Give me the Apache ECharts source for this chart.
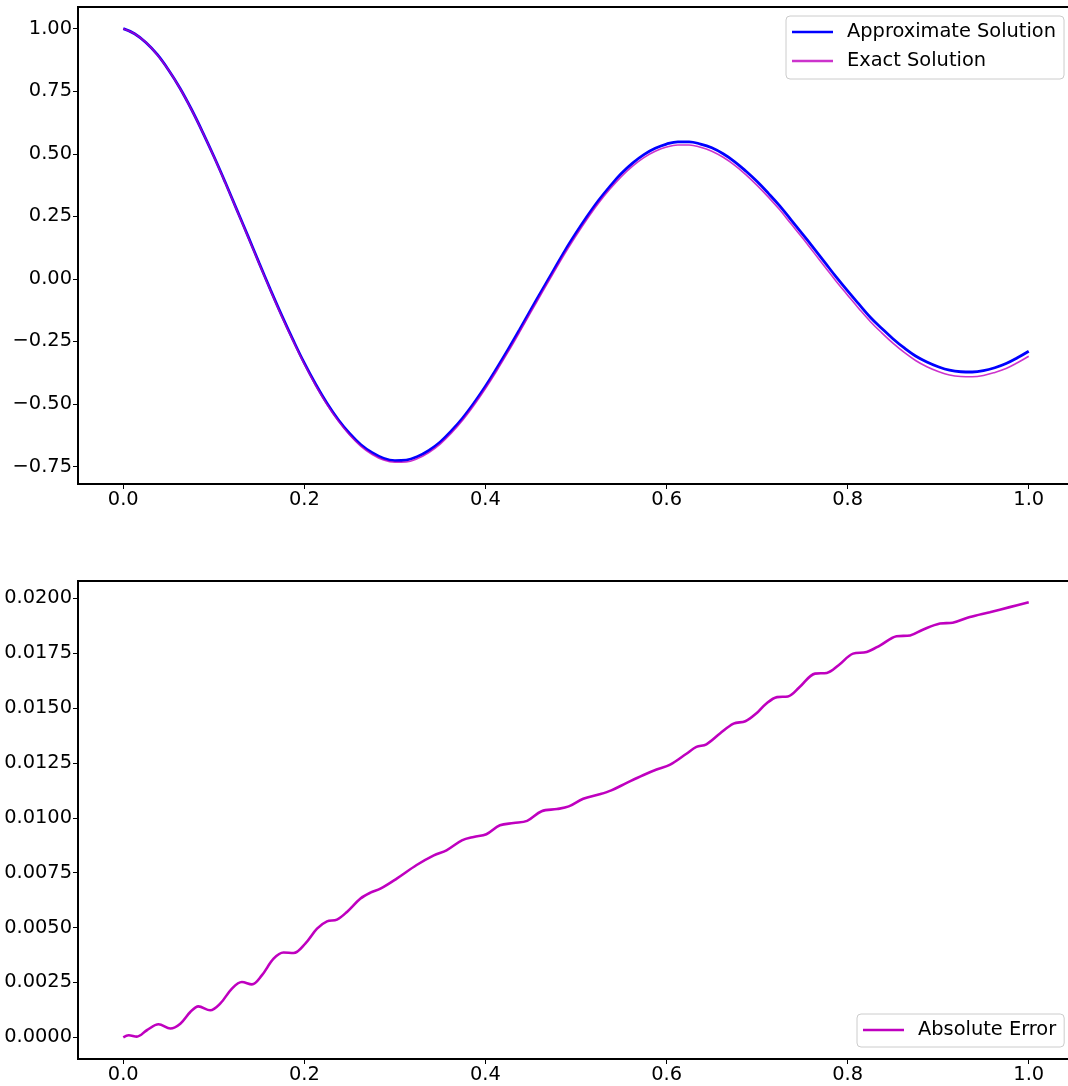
<!DOCTYPE html>
<html><head><meta charset="utf-8">
<script src="https://cdn.jsdelivr.net/npm/echarts@6/dist/echarts.min.js"></script>
<style>html,body{margin:0;padding:0;background:#fff}#c{width:1068px;height:1086px}</style>
</head><body><div id="c"></div>
<script>
// ---- data ----
const solX = [0,0.0125,0.025,0.0375,0.05,0.0625,0.075,0.0875,0.1,0.1125,0.125,0.1375,0.15,0.1625,0.175,0.1875,0.2,0.2125,0.225,0.2375,0.25,0.2625,0.275,0.2875,0.3,0.3125,0.325,0.3375,0.35,0.3625,0.375,0.3875,0.4,0.4125,0.425,0.4375,0.45,0.4625,0.475,0.4875,0.5,0.5125,0.525,0.5375,0.55,0.5625,0.575,0.5875,0.6,0.6125,0.625,0.6375,0.65,0.6625,0.675,0.6875,0.7,0.7125,0.725,0.7375,0.75,0.7625,0.775,0.7875,0.8,0.8125,0.825,0.8375,0.85,0.8625,0.875,0.8875,0.9,0.9125,0.925,0.9375,0.95,0.9625,0.975,0.9875,1.0];
const approxY = [1.000,0.980,0.945,0.897,0.835,0.763,0.680,0.588,0.490,0.387,0.280,0.173,0.064,-0.043,-0.146,-0.244,-0.337,-0.421,-0.497,-0.563,-0.618,-0.663,-0.695,-0.717,-0.726,-0.724,-0.710,-0.686,-0.652,-0.607,-0.555,-0.495,-0.429,-0.357,-0.282,-0.204,-0.124,-0.045,0.033,0.111,0.183,0.251,0.314,0.370,0.421,0.463,0.497,0.522,0.539,0.548,0.548,0.539,0.524,0.500,0.469,0.431,0.389,0.342,0.292,0.236,0.180,0.123,0.065,0.007,-0.048,-0.101,-0.153,-0.197,-0.239,-0.276,-0.308,-0.332,-0.351,-0.365,-0.371,-0.372,-0.367,-0.355,-0.338,-0.315,-0.289];
const exactY = [1.000,0.980,0.945,0.896,0.835,0.762,0.679,0.587,0.489,0.385,0.278,0.170,0.061,-0.046,-0.150,-0.248,-0.341,-0.426,-0.502,-0.568,-0.624,-0.669,-0.702,-0.724,-0.733,-0.732,-0.718,-0.694,-0.660,-0.616,-0.564,-0.504,-0.438,-0.367,-0.292,-0.214,-0.134,-0.055,0.023,0.100,0.172,0.240,0.303,0.359,0.409,0.451,0.485,0.510,0.527,0.535,0.535,0.526,0.510,0.486,0.455,0.417,0.374,0.327,0.276,0.220,0.164,0.106,0.048,-0.010,-0.065,-0.119,-0.170,-0.215,-0.257,-0.294,-0.326,-0.351,-0.370,-0.384,-0.390,-0.391,-0.386,-0.374,-0.358,-0.335,-0.309];
const errX = [0,0.006,0.015,0.026,0.039,0.052,0.063,0.074,0.083,0.096,0.107,0.120,0.131,0.142,0.153,0.166,0.177,0.188,0.201,0.214,0.225,0.236,0.247,0.262,0.273,0.284,0.302,0.324,0.343,0.357,0.374,0.387,0.401,0.416,0.431,0.446,0.462,0.479,0.492,0.508,0.526,0.539,0.556,0.574,0.589,0.604,0.622,0.633,0.644,0.659,0.674,0.687,0.699,0.710,0.722,0.734,0.747,0.764,0.777,0.790,0.806,0.821,0.836,0.854,0.869,0.883,0.902,0.916,0.935,0.957,0.979,1.0];
const errY = [0,0.00009,0.00003,0.00032,0.00059,0.00040,0.00062,0.00115,0.00141,0.00123,0.00153,0.00222,0.00252,0.00241,0.00282,0.00358,0.00386,0.00384,0.00427,0.00495,0.00528,0.00536,0.00571,0.00632,0.00659,0.00677,0.00723,0.00785,0.00829,0.00852,0.00897,0.00913,0.00925,0.00966,0.00976,0.00986,0.01030,0.01040,0.01052,0.01087,0.01107,0.01125,0.01159,0.01194,0.01220,0.01242,0.01292,0.01323,0.01335,0.01384,0.01429,0.01440,0.01475,0.01520,0.01550,0.01553,0.01596,0.01657,0.01660,0.01695,0.01748,0.01755,0.01786,0.01827,0.01831,0.01857,0.01885,0.01889,0.01915,0.01937,0.01960,0.01982];
const xTicks = [0,0.2,0.4,0.6,0.8,1.0];
const xTickLabels = ['0.0','0.2','0.4','0.6','0.8','1.0'];
const topTicks = [-0.75,-0.5,-0.25,0,0.25,0.5,0.75,1.0];
const topTickLabels = ['\u22120.75','\u22120.50','\u22120.25','0.00','0.25','0.50','0.75','1.00'];
const botTicks = [0,0.0025,0.005,0.0075,0.01,0.0125,0.015,0.0175,0.02];
const botTickLabels = ['0.0000','0.0025','0.0050','0.0075','0.0100','0.0125','0.0150','0.0175','0.0200'];
const seriesNames = ['Approximate Solution','Exact Solution','Absolute Error'];

// ---- chart ----
const FONT = 'DejaVu Sans';
const FS = 19.4;
function lab(ticks, labels){
  return v => { const i = ticks.findIndex(t => Math.abs(t - v) < 1e-9); return i >= 0 ? labels[i] : ''; };
}
function pairs(xs, ys){ return xs.map((x,i)=>[x, ys[i]]); }
function xAxisCfg(gi){
  return {
    type:'value', gridIndex:gi, min:-0.05, max:1.05, position:'bottom',
    axisLine:{show:false, onZero:false}, splitLine:{show:false},
    axisTick:{show:true, customValues:xTicks, length:5, lineStyle:{color:'#000', width:1}},
    axisLabel:{customValues:xTicks, formatter:lab(xTicks,xTickLabels), margin:6,
      fontSize:FS, fontFamily:FONT, color:'#000'}
  };
}
function yAxisCfg(gi, min, max, ticks, labels){
  return {
    type:'value', gridIndex:gi, min:min, max:max, position:'left',
    axisLine:{show:false, onZero:false}, splitLine:{show:false},
    axisTick:{show:true, customValues:ticks, length:5, lineStyle:{color:'#000', width:1}},
    axisLabel:{customValues:ticks, formatter:lab(ticks,labels), margin:6,
      fontSize:FS, fontFamily:FONT, color:'#000'}
  };
}
const legendText = {fontSize:FS, fontFamily:FONT, color:'#000', lineHeight:20, padding:[0,0,0,9]};
const chart = echarts.init(document.getElementById('c'), null, {renderer:'canvas'});
chart.setOption({
  animation:false,
  backgroundColor:'#fff',
  grid:[
    {left:78, top:7, width:996, height:477, outerBoundsMode:'none', containLabel:false, show:true, borderColor:'#000', borderWidth:2, backgroundColor:'transparent'},
    {left:78, top:581, width:996, height:478, outerBoundsMode:'none', containLabel:false, show:true, borderColor:'#000', borderWidth:2, backgroundColor:'transparent'}
  ],
  xAxis:[xAxisCfg(0), xAxisCfg(1)],
  yAxis:[
    yAxisCfg(0, -0.8197, 1.0867, topTicks, topTickLabels),
    yAxisCfg(1, -0.00099, 0.02079, botTicks, botTickLabels)
  ],
  legend:[
    {orient:'vertical', left:786, top:16, padding:[6,8,8,6], itemGap:9, itemWidth:41, itemHeight:2.5,
     icon:'rect', data:[seriesNames[0], seriesNames[1]], textStyle:legendText,
     backgroundColor:'rgba(255,255,255,0.8)', borderColor:'#cccccc', borderWidth:1, borderRadius:4, selectedMode:false},
    {orient:'vertical', left:857, top:1014, padding:[6,8,7,6], itemWidth:41, itemHeight:2.5,
     icon:'rect', data:[seriesNames[2]], textStyle:legendText,
     backgroundColor:'rgba(255,255,255,0.8)', borderColor:'#cccccc', borderWidth:1, borderRadius:4, selectedMode:false}
  ],
  series:[
    {name:seriesNames[0], type:'line', xAxisIndex:0, yAxisIndex:0, data:pairs(solX, approxY),
     smooth:0.4, showSymbol:false, symbol:'none', color:'#0000ff',
     itemStyle:{color:'#0000ff'}, lineStyle:{color:'#0000ff', width:2.8}, z:2},
    {name:seriesNames[1], type:'line', xAxisIndex:0, yAxisIndex:0, data:pairs(solX, exactY),
     smooth:0.4, showSymbol:false, symbol:'none', color:'rgba(191,0,191,0.8)',
     itemStyle:{color:'rgba(191,0,191,0.8)'}, lineStyle:{color:'rgba(191,0,191,0.8)', width:1.6}, z:3},
    {name:seriesNames[2], type:'line', xAxisIndex:1, yAxisIndex:1, data:pairs(errX, errY),
     smooth:0.35, showSymbol:false, symbol:'none', color:'#bf00bf',
     itemStyle:{color:'#bf00bf'}, lineStyle:{color:'#bf00bf', width:2.6}, z:2}
  ]
});
</script></body></html>
